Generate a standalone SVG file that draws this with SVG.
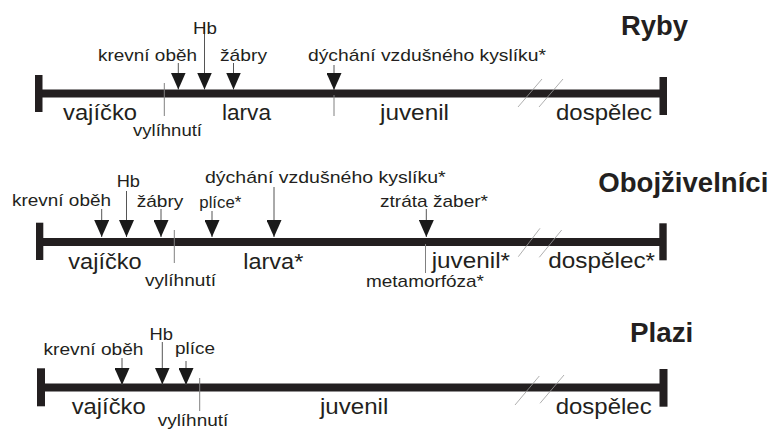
<svg xmlns="http://www.w3.org/2000/svg" width="778" height="430" viewBox="0 0 778 430">
  <style>
    text { font-family: "Liberation Sans", Arial, Helvetica, sans-serif; fill: #231f20; }
    .s { font-size: 17px; }
    .l { font-size: 22.5px; }
    .t { font-size: 27px; font-weight: bold; }
    .axis { stroke: #231f20; stroke-width: 8; }
    .cap { fill: #231f20; }
    .stem { stroke: #555; stroke-width: 1; fill: none; }
    .tick { stroke: #808080; stroke-width: 1; fill: none; }
    .brk { stroke: #9a9a9a; stroke-width: 0.8; fill: none; }
  </style>
  <defs>
    <marker id="head" viewBox="0 0 17 15" refX="17" refY="7.5" markerWidth="17" markerHeight="15" markerUnits="userSpaceOnUse" orient="auto">
      <path d="M0,0 L17,7.5 L0,15 Z" fill="#1a1a1a"/>
    </marker>
  </defs>
  <rect width="778" height="430" fill="#ffffff"/>

  <!-- Ryby -->
  <g id="ryby">
    <g id="ryby-axis">
      <line class="axis" x1="40" y1="93.5" x2="662" y2="93.5"/>
      <rect class="cap" x="35" y="75" width="7.5" height="37"/>
      <rect class="cap" x="659.5" y="77" width="7.5" height="38"/>
      <line class="brk" x1="518" y1="107" x2="542" y2="79"/>
      <line class="brk" x1="539" y1="107" x2="563" y2="79"/>
    </g>
    <g id="ryby-connectors">
      <line class="stem" x1="178.3" y1="63" x2="178.3" y2="89.5" marker-end="url(#head)"/>
      <line class="stem" x1="204.5" y1="24" x2="204.5" y2="89.5" marker-end="url(#head)"/>
      <line class="stem" x1="233.5" y1="63" x2="233.5" y2="89.5" marker-end="url(#head)"/>
      <line class="stem" x1="334" y1="65" x2="334" y2="90" marker-end="url(#head)"/>
      <line class="tick" x1="164.3" y1="83" x2="164.3" y2="116"/>
      <line class="tick" x1="334" y1="95" x2="334" y2="116"/>
    </g>
    <text class="t" x="621" y="35" textLength="67" lengthAdjust="spacingAndGlyphs">Ryby</text>
    <text class="s" x="193" y="34" textLength="24" lengthAdjust="spacingAndGlyphs">Hb</text>
    <text class="s" x="98" y="61" textLength="99" lengthAdjust="spacingAndGlyphs">krevní oběh</text>
    <text class="s" x="220" y="61" textLength="47" lengthAdjust="spacingAndGlyphs">žábry</text>
    <text class="s" x="308" y="61" textLength="238" lengthAdjust="spacingAndGlyphs">dýchání vzdušného kyslíku*</text>
    <text class="l" x="63" y="120" textLength="74" lengthAdjust="spacingAndGlyphs">vajíčko</text>
    <text class="s" x="133" y="135.5" textLength="69" lengthAdjust="spacingAndGlyphs">vylíhnutí</text>
    <text class="l" x="222" y="119.5" textLength="49" lengthAdjust="spacingAndGlyphs">larva</text>
    <text class="l" x="380" y="119.5" textLength="69" lengthAdjust="spacingAndGlyphs">juvenil</text>
    <text class="l" x="556" y="120" textLength="96" lengthAdjust="spacingAndGlyphs">dospělec</text>
  </g>

  <!-- Obojživelníci -->
  <g id="obojzivelnici">
    <g id="oboj-axis">
      <line class="axis" x1="40" y1="242" x2="662" y2="242"/>
      <rect class="cap" x="36" y="222.7" width="7.3" height="37.3"/>
      <rect class="cap" x="659.3" y="223.3" width="7.4" height="37"/>
      <line class="brk" x1="518.3" y1="256.7" x2="540" y2="228.3"/>
      <line class="brk" x1="539.3" y1="257.3" x2="561.7" y2="230"/>
    </g>
    <g id="oboj-connectors">
      <line class="stem" x1="101.7" y1="209" x2="101.7" y2="237" marker-end="url(#head)"/>
      <line class="stem" x1="126.5" y1="191" x2="126.5" y2="237" marker-end="url(#head)"/>
      <line class="stem" x1="161" y1="209" x2="161" y2="237" marker-end="url(#head)"/>
      <line class="stem" x1="212" y1="211" x2="212" y2="237" marker-end="url(#head)"/>
      <line class="stem" x1="274" y1="187" x2="274" y2="237" marker-end="url(#head)"/>
      <line class="stem" x1="426.3" y1="209" x2="426.3" y2="237" marker-end="url(#head)"/>
      <line class="tick" x1="174.3" y1="230" x2="174.3" y2="263"/>
      <line class="tick" x1="425.5" y1="244" x2="425.5" y2="273"/>
    </g>
    <text class="t" x="598.3" y="192" textLength="170" lengthAdjust="spacingAndGlyphs">Obojživelníci</text>
    <text class="s" x="116.7" y="187" textLength="23.3" lengthAdjust="spacingAndGlyphs">Hb</text>
    <text class="s" x="12" y="206" textLength="99" lengthAdjust="spacingAndGlyphs">krevní oběh</text>
    <text class="s" x="136.7" y="206.5" textLength="46.7" lengthAdjust="spacingAndGlyphs">žábry</text>
    <text class="s" x="199.3" y="208" textLength="42" lengthAdjust="spacingAndGlyphs">plíce*</text>
    <text class="s" x="205" y="183" textLength="240.7" lengthAdjust="spacingAndGlyphs">dýchání vzdušného kyslíku*</text>
    <text class="s" x="380" y="207" textLength="108" lengthAdjust="spacingAndGlyphs">ztráta žaber*</text>
    <text class="l" x="68.3" y="269" textLength="73.4" lengthAdjust="spacingAndGlyphs">vajíčko</text>
    <text class="s" x="145" y="286" textLength="71" lengthAdjust="spacingAndGlyphs">vylíhnutí</text>
    <text class="l" x="243.3" y="269" textLength="60" lengthAdjust="spacingAndGlyphs">larva*</text>
    <text class="s" x="366" y="287" textLength="118" lengthAdjust="spacingAndGlyphs">metamorfóza*</text>
    <text class="l" x="431.7" y="268" textLength="78.3" lengthAdjust="spacingAndGlyphs">juvenil*</text>
    <text class="l" x="548.3" y="268" textLength="106.7" lengthAdjust="spacingAndGlyphs">dospělec*</text>
  </g>

  <!-- Plazi -->
  <g id="plazi">
    <g id="plazi-axis">
      <line class="axis" x1="41" y1="387.5" x2="663" y2="387.5"/>
      <rect class="cap" x="37" y="368.3" width="8" height="38"/>
      <rect class="cap" x="659.5" y="369" width="8" height="37.7"/>
      <line class="brk" x1="515" y1="405" x2="539.3" y2="376"/>
      <line class="brk" x1="540" y1="403.3" x2="564" y2="375"/>
    </g>
    <g id="plazi-connectors">
      <line class="stem" x1="122" y1="358" x2="122" y2="385" marker-end="url(#head)"/>
      <line class="stem" x1="162.3" y1="342" x2="162.3" y2="384.5" marker-end="url(#head)"/>
      <line class="stem" x1="186" y1="361" x2="186" y2="385" marker-end="url(#head)"/>
      <line class="tick" x1="199.7" y1="378" x2="199.7" y2="411"/>
    </g>
    <text class="t" x="630" y="342" textLength="63.3" lengthAdjust="spacingAndGlyphs">Plazi</text>
    <text class="s" x="149.5" y="340" textLength="23.5" lengthAdjust="spacingAndGlyphs">Hb</text>
    <text class="s" x="43.5" y="355" textLength="100" lengthAdjust="spacingAndGlyphs">krevní oběh</text>
    <text class="s" x="175" y="353.5" textLength="40" lengthAdjust="spacingAndGlyphs">plíce</text>
    <text class="l" x="71.7" y="414" textLength="74" lengthAdjust="spacingAndGlyphs">vajíčko</text>
    <text class="s" x="157.7" y="426" textLength="70.6" lengthAdjust="spacingAndGlyphs">vylíhnutí</text>
    <text class="l" x="320" y="414" textLength="68.3" lengthAdjust="spacingAndGlyphs">juvenil</text>
    <text class="l" x="555.7" y="414" textLength="96" lengthAdjust="spacingAndGlyphs">dospělec</text>
  </g>
</svg>
